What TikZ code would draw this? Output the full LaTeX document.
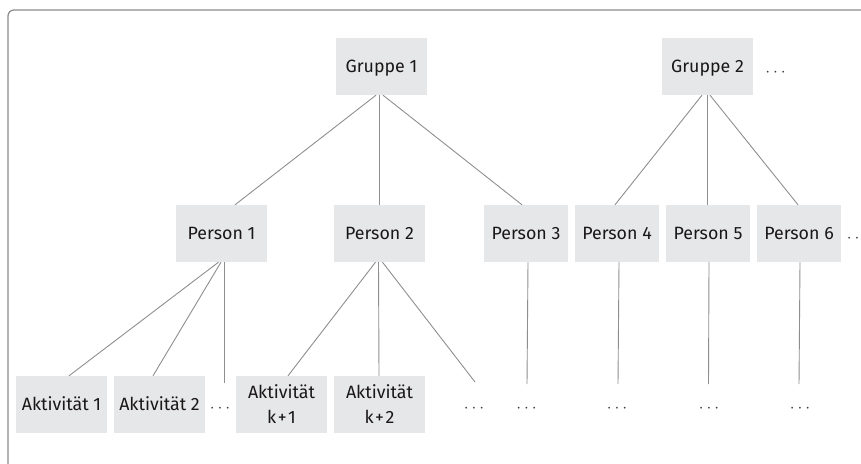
\documentclass[tikz,border=0pt]{standalone}
\usepackage{fontspec}
\setmainfont{Fira Sans}
\definecolor{boxfill}{HTML}{E6E7E8}
\definecolor{txt}{HTML}{1A1718}
\definecolor{linec}{HTML}{8E8E8E}
\definecolor{framec}{HTML}{8A8A8A}
\begin{document}
\begin{tikzpicture}[x=1pt,y=-1pt,
  box/.style={fill=boxfill, draw=none, inner sep=0pt, minimum width=91pt, minimum height=57pt,
    text=txt, font=\fontsize{17.8}{25}\selectfont, text height=12.3pt, text depth=0pt, align=center},
  narrow/.style={minimum width=84pt},
  twoline/.style={text height=37.3pt},
  conn/.style={draw=linec, line width=0.9pt},
  dotsn/.style={anchor=base, inner sep=0pt, text=txt!85, font=\fontsize{18}{20}\selectfont}]
\useasboundingbox (0,0) rectangle (861,463);
\begin{scope}
\clip (0,0) rectangle (861,463);
\draw[framec, line width=1.2pt, rounded corners=6pt] (8,10) rectangle (880,490);
\end{scope}
% top row
\node[box] (g1) at (381.5,66.5) {Gruppe 1};
\node[box] (g2) at (707.5,66.5) {Gruppe 2};
\node[dotsn] (dg2) at (775.5,76.5) {$\cdots$};
% middle row
\node[box] (p1) at (221.5,233.5) {Person 1};
\node[box] (p2) at (379.5,233.5) {Person 2};
\node[box,narrow] (p3) at (526,233.5) {Person 3};
\node[box,narrow] (p4) at (617,233.5) {Person 4};
\node[box,narrow] (p5) at (708,233.5) {Person 5};
\node[box,narrow] (p6) at (799,233.5) {Person 6};
\node[dotsn] (dp6) at (857,242) {$\cdots$};
% bottom row
\node[box] (a1) at (61.5,404.5) {Aktivität 1};
\node[box] (a2) at (159.5,404.5) {Aktivität 2};
\node[box,twoline] (ak1) at (281.5,404.5) {Aktivität\\k\kern1.5pt+\kern1.5pt1};
\node[box,twoline] (ak2) at (379.5,404.5) {Aktivität\\k\kern1.5pt+\kern1.5pt2};
\node[dotsn] (da2) at (220,412.5) {$\cdots$};
\node[dotsn] (dk) at (474,412.5) {$\cdots$};
\node[dotsn] (d3) at (526.5,412.5) {$\cdots$};
\node[dotsn] (d4) at (617,412.5) {$\cdots$};
\node[dotsn] (d5) at (709,412.5) {$\cdots$};
\node[dotsn] (d6) at (800,412.5) {$\cdots$};
% free ends
\coordinate (c1) at (224,383);
\coordinate (c2) at (475,382);
\coordinate (c3) at (527,384);
\coordinate (c4) at (618,384);
\coordinate (c5) at (708.5,384);
\coordinate (c6) at (799,384);
% connectors
\draw[conn] ([xshift=-5.5pt]g1.south) -- ([xshift=13.5pt]p1.north);
\draw[conn] ([xshift=-2.5pt]g1.south) -- ([xshift=-0.5pt]p2.north);
\draw[conn] ([xshift=1.5pt]g1.south) -- ([xshift=-4pt]p3.north);
\draw[conn] ([xshift=-5.5pt]g2.south) -- ([xshift=-2pt]p4.north);
\draw[conn] ([xshift=-0.5pt]g2.south) -- ([xshift=-1pt]p5.north);
\draw[conn] ([xshift=2.5pt]g2.south) -- ([xshift=-1pt]p6.north);
\draw[conn] ([xshift=-3pt]p1.south) -- ([xshift=7.5pt]a1.north);
\draw[conn] ([xshift=-0.5pt]p1.south) -- ([xshift=-6.5pt]a2.north);
\draw[conn] ([xshift=2.5pt]p1.south) -- (c1);
\draw[conn] ([xshift=-4pt]p2.south) -- ([xshift=6.5pt]ak1.north);
\draw[conn] ([xshift=-1pt]p2.south) -- ([xshift=-0.5pt]ak2.north);
\draw[conn] ([xshift=3pt]p2.south) -- (c2);
\draw[conn] ([xshift=2pt]p3.south) -- (c3);
\draw[conn] ([xshift=2pt]p4.south) -- (c4);
\draw[conn] ([xshift=1pt]p5.south) -- (c5);
\draw[conn] ([xshift=1pt]p6.south) -- (c6);
\end{tikzpicture}
\end{document}
